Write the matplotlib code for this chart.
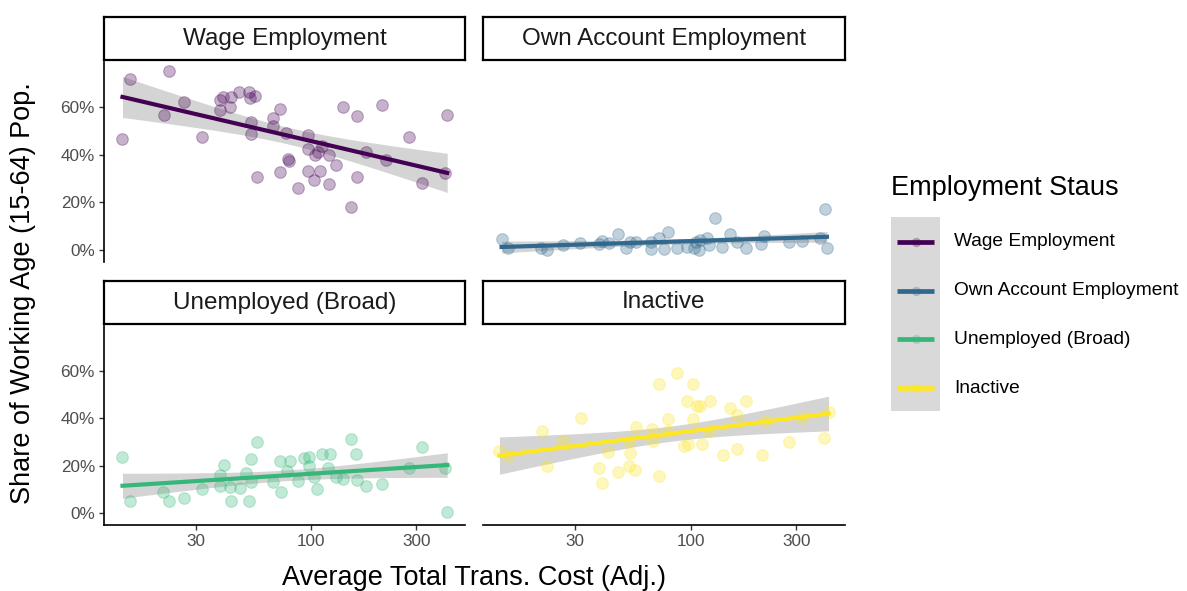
import numpy as np
import matplotlib
matplotlib.use('Agg')
import matplotlib.pyplot as plt
from matplotlib.patches import Rectangle

plt.rcParams['font.family'] = ['Liberation Sans', 'DejaVu Sans']

# ================== data ==================
statuses = ['Wage Employment', 'Own Account Employment', 'Unemployed (Broad)', 'Inactive']
colors = ['#440154', '#31688E', '#35B779', '#FDE725']

wage_x = [13.9, 15.0, 22.7, 26.5, 21.4, 31.9, 38.5, 39.9, 43.2, 42.7, 38.5, 47.1, 52.2, 52.6,
          55.8, 53.4, 53.4, 56.8, 72.0, 67.2, 66.8, 76.6, 72.1, 78.8, 79.6, 86.9, 96.6, 97.0,
          96.6, 102.4, 104.2, 107.8, 109.7, 111.6, 120.7, 120.7, 128.9, 139.4, 152, 161, 161,
          177, 210, 218, 277, 319, 403, 414]
wage_y = [46.5, 71.7, 75.2, 62.0, 56.6, 47.6, 63.0, 64.4, 64.4, 60.2, 58.8, 66.3, 66.3, 64.0,
          64.8, 53.9, 48.7, 30.8, 59.2, 55.6, 52.1, 49.0, 32.6, 38.1, 37.4, 26.2, 48.3, 42.3,
          33.2, 29.4, 39.9, 41.3, 33.2, 43.7, 39.9, 27.6, 35.7, 60.2, 18.2, 56.4, 30.5,
          41.3, 60.9, 37.8, 47.6, 28.3, 32.2, 56.7]

own_x = [13.9, 14.9, 21.0, 22.4, 26.4, 31.6, 38.2, 39.8, 42.6, 46.9, 51.1, 52.8, 56.6, 66.1,
         66.0, 71.4, 75.7, 78.9, 86.3, 96.2, 103, 106, 108.6, 110.5, 118, 120.3, 128, 139, 150,
         161, 177, 208, 215, 277, 317, 386, 403, 413]
own_y = [4.5, 0.7, 1.0, 0.0, 2.1, 2.8, 2.4, 3.9, 3.1, 6.6, 0.7, 3.5, 3.5, 0.4,
         3.5, 4.9, 0.4, 7.4, 1.0, 1.4, 0.7, 3.5, 0.0, 4.2, 4.9, 2.1, 13.3, 1.1, 6.7,
         3.5, 0.7, 2.5, 6.0, 3.2, 3.9, 5.2, 17.2, 1.0]

unemp_x = [13.9, 15.0, 21.3, 22.7, 26.5, 31.9, 38.5, 40.1, 38.5, 42.7, 43.2, 47.4, 50.8, 52.2,
           53.4, 53.4, 56.8, 66.8, 72.0, 72.7, 79.8, 77.9, 87.2, 92.4, 97.3, 97.3, 102.4, 106,
           111.6, 121.6, 119.5, 128.9, 139.4, 152, 159.8, 161, 177, 210, 277, 319, 403, 414]
unemp_y = [23.5, 4.9, 8.7, 4.9, 6.2, 10.1, 16.1, 20.2, 11.5, 10.8, 5.2, 10.4, 17.1, 5.2,
           23.0, 12.9, 30.0, 12.9, 22.0, 9.0, 22.0, 17.8, 13.6, 23.4, 23.7, 19.9, 15.3, 10.1,
           24.8, 24.8, 18.9, 15.3, 14.3, 31.1, 25.1, 14.0, 11.5, 12.2, 19.2, 27.9, 18.8, 0.5]

inact_x = [13.6, 14.9, 21.3, 22.4, 26.4, 31.8, 38.5, 39.8, 42.3, 46.9, 52.3, 55.7, 53.3, 52.3,
           56.6, 66.7, 67.2, 71.4, 72.0, 78.4, 78.4, 86.3, 93.0, 97.0, 96.2, 102.4, 102.4, 106.7,
           110, 112.4, 121.6, 120.3, 139.4, 150, 161, 161, 177, 210, 219, 277, 317, 400, 420]
inact_y = [26.2, 24.1, 34.6, 19.9, 30.4, 40.2, 18.8, 12.6, 25.8, 17.4, 19.9, 18.2, 25.2, 30.4,
           36.4, 35.3, 30.4, 15.7, 54.6, 39.8, 34.6, 59.1, 28.3, 29.0, 47.2, 54.6, 39.8, 45.1,
           45.1, 29.0, 47.2, 34.6, 24.4, 44.4, 41.6, 27.2, 47.2, 24.4, 38.8, 30.0, 40.2, 31.8, 42.6]

series_x = [wage_x, own_x, unemp_x, inact_x]
series_y = [wage_y, own_y, unemp_y, inact_y]

x_ticks = [30, 100, 300]
y_ticks = [0, 20, 40, 60]


# ================== helpers ==================
def lm_band(x, y):
    """ linear fit of y on log10(x) with a 95% band, like geom_smooth(method='lm') """
    lx = np.log10(np.asarray(x, float))
    y = np.asarray(y, float)
    n = len(lx)
    b1, b0 = np.polyfit(lx, y, 1)
    grid = np.linspace(lx.min(), lx.max(), 80)
    pred = b0 + b1 * grid
    resid = y - (b0 + b1 * lx)
    s = np.sqrt(np.sum(resid ** 2) / (n - 2))
    se = s * np.sqrt(1 / n + (grid - lx.mean()) ** 2 / np.sum((lx - lx.mean()) ** 2))
    t = 2.015
    return 10 ** grid, pred, pred - t * se, pred + t * se


fits = [lm_band(x, y) for x, y in zip(series_x, series_y)]

# shared scales (facet_wrap with fixed scales, 5% expansion)
all_lx = np.log10(np.concatenate([np.asarray(v, float) for v in series_x]))
lx_lo, lx_hi = all_lx.min(), all_lx.max()
pad = 0.05 * (lx_hi - lx_lo)
xlim = (10 ** (lx_lo - pad), 10 ** (lx_hi + pad))
all_y = np.concatenate([np.asarray(v, float) for v in series_y] +
                       [f[2] for f in fits] + [f[3] for f in fits])
y_lo, y_hi = all_y.min(), all_y.max()
ypad = 0.05 * (y_hi - y_lo)
ylim = (y_lo - ypad, y_hi + ypad)

W, H = 1187, 591
fig = plt.figure(figsize=(W / 100, H / 100), dpi=100)


def fax(x0, y0, x1, y1):
    # pixel box -> figure axes
    return fig.add_axes([x0 / W, 1 - y1 / H, (x1 - x0) / W, (y1 - y0) / H])


panels = [(104, 62, 465, 262), (483, 62, 845, 262),
          (104, 326, 465, 525), (483, 326, 845, 525)]
strips = [(104, 17, 465, 60), (483, 17, 845, 60),
          (104, 281, 465, 324), (483, 281, 845, 324)]

for i, name in enumerate(statuses):
    ax = fax(*panels[i])
    gx, gy, glo, ghi = fits[i]
    ax.fill_between(gx, glo, ghi, color='#999999', alpha=0.42, linewidth=0, zorder=1)
    ax.scatter(series_x[i], series_y[i], s=70, color=colors[i], alpha=0.3,
               linewidths=0.8, zorder=2)
    ax.plot(gx, gy, color=colors[i], linewidth=3.0, zorder=3)
    ax.set_xscale('log')
    ax.set_xlim(xlim)
    ax.set_ylim(ylim)
    ax.minorticks_off()
    for sp in ['top', 'right']:
        ax.spines[sp].set_visible(False)
    left_col = i % 2 == 0
    bottom_row = i >= 2
    ax.spines['left'].set_visible(left_col)
    ax.spines['bottom'].set_visible(bottom_row)
    ax.spines['left'].set_linewidth(1.2)
    ax.spines['bottom'].set_linewidth(1.2)
    ax.set_xticks(x_ticks)
    ax.set_xticklabels([str(v) for v in x_ticks])
    ax.set_yticks(y_ticks)
    ax.set_yticklabels([f'{v}%' for v in y_ticks])
    ax.tick_params(axis='both', length=3.5, width=1.0, color='#333333',
                   labelcolor='#4D4D4D', labelsize=12.3, pad=3)
    ax.tick_params(axis='y', left=left_col, labelleft=left_col)
    ax.tick_params(axis='x', bottom=bottom_row, labelbottom=bottom_row)
    ax.patch.set_visible(False)

    # strip
    sax = fax(*strips[i])
    sax.set_xticks([])
    sax.set_yticks([])
    for sp in sax.spines.values():
        sp.set_linewidth(1.6)
        sp.set_color('black')
    sax.text(0.5, 0.5, name, ha='center', va='center', fontsize=17.5,
             color='#1A1A1A', transform=sax.transAxes)

fig.text(474 / W, 1 - 578 / H, 'Average Total Trans. Cost (Adj.)', ha='center',
         va='center', fontsize=19.5, color='black')
fig.text(23 / W, 1 - 293 / H, 'Share of Working Age (15-64) Pop.', ha='center',
         va='center', rotation=90, fontsize=19.5, color='black')

# legend
lax = fax(880, 160, 1187, 420)
lax.set_xlim(880, 1187)
lax.set_ylim(420, 160)
lax.axis('off')
lax.text(891, 188, 'Employment Staus', ha='left', va='center', fontsize=19.5, color='black')
lax.add_patch(Rectangle((891, 217), 49, 194, facecolor='#D9D9D9', edgecolor='none'))
for k, name in enumerate(statuses):
    yk = 242 + k * 48.7
    lax.plot([897, 934], [yk, yk], color=colors[k], linewidth=3.4, solid_capstyle='butt')
    lax.scatter([915.5], [yk], s=45, color=colors[k], alpha=0.3, linewidths=0)
    lax.text(954, yk, name, ha='left', va='center', fontsize=13.8, color='black')

plt.savefig('out.png', dpi=100)
plt.close()
